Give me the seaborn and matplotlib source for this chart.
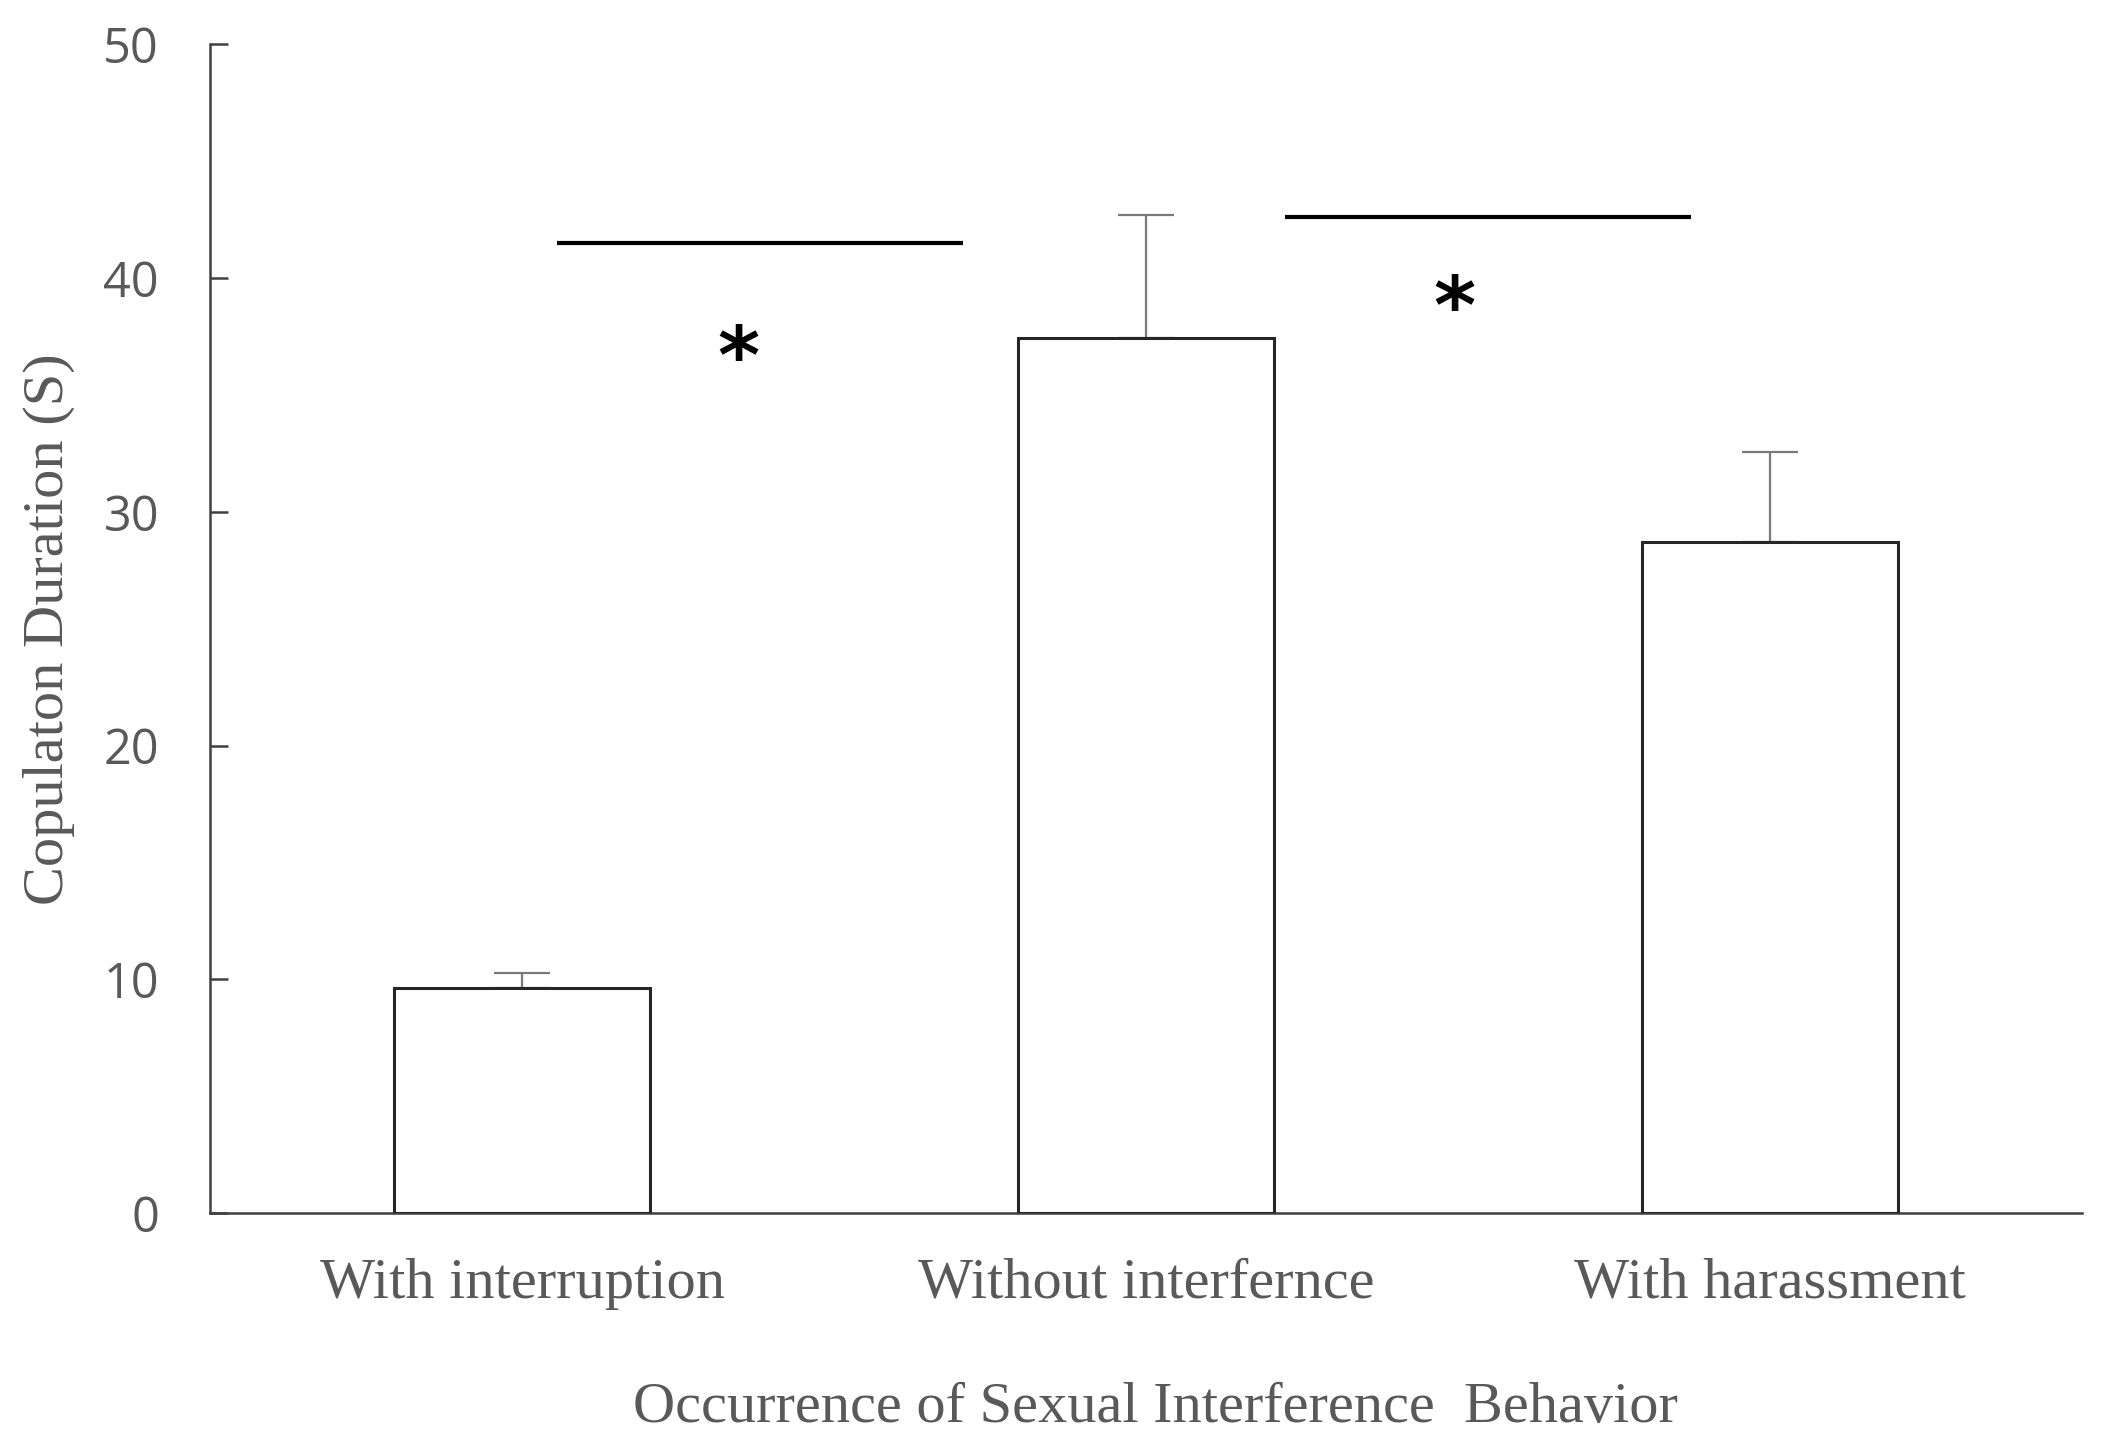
import matplotlib
matplotlib.use("Agg")
import matplotlib.pyplot as plt
import seaborn as sns
import pandas as pd

# ---- data ----
categories = ["With interruption", "Without interfernce", "With harassment"]
means = [9.65, 37.45, 28.7]
errors = [0.62, 5.25, 3.85]
yticks = [0, 10, 20, 30, 40, 50]

# significance annotations: (x_start, x_end, y_line, x_star, y_star)
sig_left = (0.055, 0.706, 41.5, 0.347, 36.45)
sig_right = (1.222, 1.873, 42.6, 1.494, 38.6)

sns.set_theme(style="white")
plt.rcParams["font.family"] = ["Liberation Serif", "DejaVu Serif"]

df = pd.DataFrame({"cat": categories, "val": means})

fig = plt.figure(figsize=(21.02, 14.56), dpi=100)
ax = fig.add_axes([0.1001, 0.1667, 0.8903, 0.8029])

sns.barplot(data=df, x="cat", y="val", color="white", edgecolor="#262626",
            linewidth=2.2, width=0.41, errorbar=None, saturation=1, ax=ax, zorder=3)
for p in ax.patches:
    p.set_facecolor("white")

ax.errorbar(x=range(len(categories)), y=means, yerr=[[0] * len(errors), errors],
            fmt="none", ecolor="#7a7a7a", elinewidth=1.6, capsize=20, capthick=1.6, zorder=2)

ax.set_xlim(-0.5, 2.5)
ax.set_ylim(0, 50)
ax.set_yticks(yticks)
ax.set_yticklabels([str(t) for t in yticks], fontfamily="Open Sans", color="#595959", fontsize=35)

for s in ["top", "right"]:
    ax.spines[s].set_visible(False)
for s in ["left", "bottom"]:
    ax.spines[s].set_color("#404040")
    ax.spines[s].set_linewidth(1.8)

ax.tick_params(axis="y", direction="in", length=13, width=1.8, color="#404040", pad=37, left=True)
ax.tick_params(axis="x", length=0, pad=32, labelsize=42, labelcolor="#595959")
for lab in ax.get_xticklabels():
    lab.set_fontfamily("Liberation Serif")

ax.set_xlabel("Occurrence of Sexual Interference  Behavior", fontsize=42, color="#595959", labelpad=52)
ax.xaxis.label.set_x(0.505)
ax.set_ylabel("Copulaton Duration (S)", fontsize=42, color="#595959", labelpad=20)

for (x0, x1, yl, xs, ys) in [sig_left, sig_right]:
    ax.plot([x0, x1], [yl, yl], color="black", linewidth=3.0, solid_capstyle="butt", zorder=4)
    ax.text(xs, ys, "*", fontsize=58, fontweight="bold", fontfamily="DejaVu Sans",
            ha="center", va="center", color="black")

ax.grid(False)
fig.savefig("out.png", dpi=100, facecolor="white")
